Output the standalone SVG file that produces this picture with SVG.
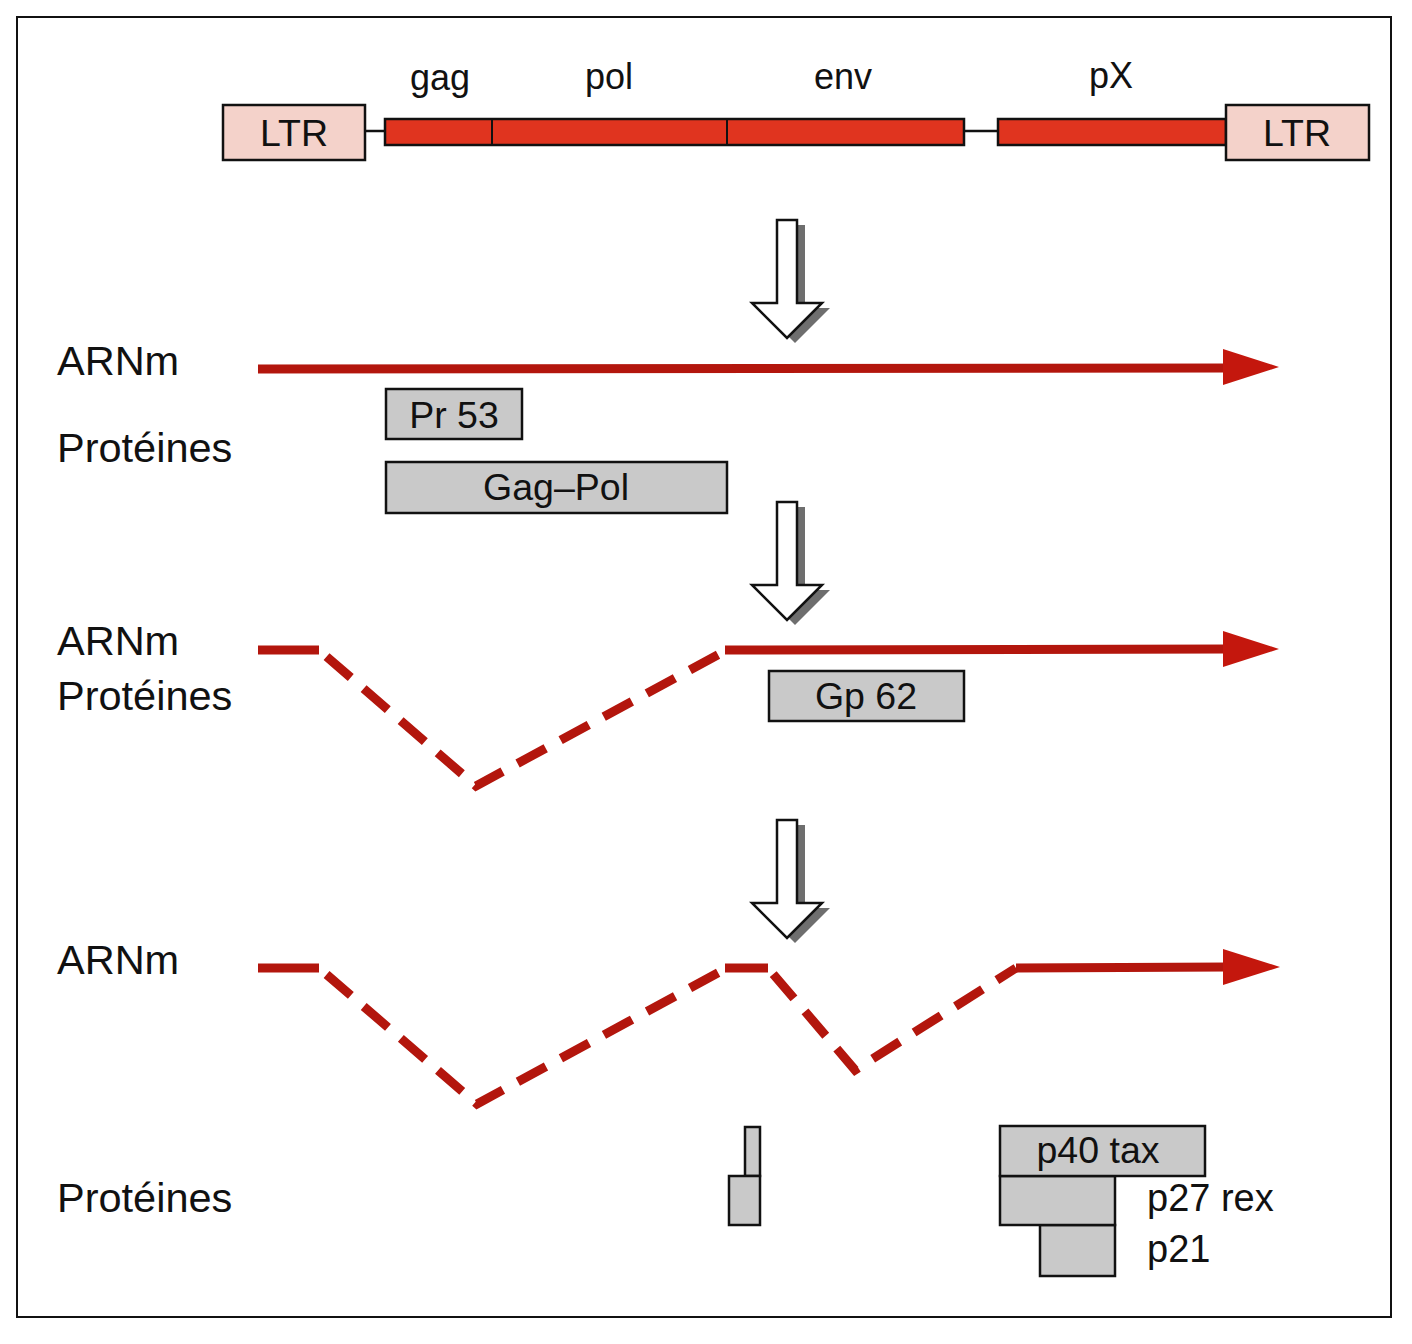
<svg xmlns="http://www.w3.org/2000/svg" width="1412" height="1344" viewBox="0 0 1412 1344">
<defs>
<style>
text{font-family:"Liberation Sans",Arial,sans-serif;fill:#111}
.lbl{font-size:41.5px}
.gene{font-size:36px}
.side{font-size:38px}
.box{font-size:37.5px;text-anchor:middle}
.ltr{fill:#f4d2ca;stroke:#111;stroke-width:2.5}
.bar{fill:#e0341f;stroke:#111;stroke-width:2.5}
.prot{fill:#c9c9c9;stroke:#111;stroke-width:2.5}
.rna{fill:none;stroke:#b3160d;stroke-width:9}
.dash{fill:none;stroke:#b3160d;stroke-width:9;stroke-dasharray:32 17}
.ah{fill:#c4170d}
.arr{fill:#fff;stroke:#111;stroke-width:2.5;stroke-linejoin:miter}
.sh{fill:#6e6e6e}
</style>
<path id="da" d="M777,220 L797,220 L797,303 L822,303 L787,338 L752,303 L777,303 Z"/>
</defs>
<rect x="17" y="17" width="1374" height="1300" fill="#fff" stroke="#111" stroke-width="2"/>

<g id="genome">
<line x1="365" y1="131" x2="385" y2="131" stroke="#111" stroke-width="2.5"/>
<line x1="964" y1="131" x2="998" y2="131" stroke="#111" stroke-width="2.5"/>
<rect class="bar" x="385" y="119" width="579" height="26"/>
<line x1="492" y1="119" x2="492" y2="145" stroke="#111" stroke-width="2"/>
<line x1="727" y1="119" x2="727" y2="145" stroke="#111" stroke-width="2"/>
<rect class="bar" x="998" y="119" width="228" height="26"/>
<g id="ltr-left"><rect class="ltr" x="223" y="105" width="142" height="55"/><text class="box" x="294" y="146">LTR</text></g>
<g id="ltr-right"><rect class="ltr" x="1226" y="105" width="143" height="55"/><text class="box" x="1297" y="146">LTR</text></g>
<text class="gene" x="440" y="90" text-anchor="middle">gag</text>
<text class="gene" x="609" y="89" text-anchor="middle">pol</text>
<text class="gene" x="843" y="89" text-anchor="middle">env</text>
<text class="gene" x="1111" y="88" text-anchor="middle">pX</text>
</g>

<g id="arrows">
<g id="arrow1"><use href="#da" class="sh" transform="translate(8,5)"/><use href="#da" class="arr"/></g>
<g id="arrow2" transform="translate(0,282)"><use href="#da" class="sh" transform="translate(8,5)"/><use href="#da" class="arr"/></g>
<g id="arrow3" transform="translate(0,600)"><use href="#da" class="sh" transform="translate(8,5)"/><use href="#da" class="arr"/></g>
</g>

<g id="labels">
<text class="lbl" x="57" y="375">ARNm</text>
<text class="lbl" x="57" y="462">Protéines</text>
<text class="lbl" x="57" y="655">ARNm</text>
<text class="lbl" x="57" y="710">Protéines</text>
<text class="lbl" x="57" y="974">ARNm</text>
<text class="lbl" x="57" y="1212">Protéines</text>
</g>

<g id="connectors">
<line class="rna" x1="258" y1="369" x2="1228" y2="368"/>
<polygon class="ah" points="1223,349 1279,367 1223,385"/>

<line class="rna" x1="258" y1="650" x2="319" y2="650"/>
<path class="dash" d="M319,650 L476,786 L725,651" stroke-dashoffset="-10"/>
<line class="rna" x1="725" y1="650" x2="1228" y2="649"/>
<polygon class="ah" points="1223,631 1279,649 1223,667"/>

<line class="rna" x1="258" y1="968" x2="319" y2="968"/>
<path class="dash" d="M319,968 L477,1104 L725,969" stroke-dashoffset="-10"/>
<line class="rna" x1="725" y1="968" x2="768" y2="968"/>
<path class="dash" d="M768,968 L855,1070 L1016,968" stroke-dashoffset="-8"/>
<line class="rna" x1="1016" y1="968" x2="1228" y2="967"/>
<polygon class="ah" points="1223,949 1280,967 1223,985"/>
</g>

<g id="proteins">
<g id="pr53"><rect class="prot" x="386" y="389" width="136" height="50"/><text class="box" x="454" y="428">Pr 53</text></g>
<g id="gagpol"><rect class="prot" x="386" y="462" width="341" height="51"/><text class="box" x="556" y="500">Gag–Pol</text></g>
<g id="gp62"><rect class="prot" x="769" y="671" width="195" height="50"/><text class="box" x="866" y="709">Gp 62</text></g>
<g id="small-prot"><rect class="prot" x="745" y="1127" width="15" height="49"/><rect class="prot" x="729" y="1176" width="31" height="49"/></g>
<g id="p21"><rect class="prot" x="1040" y="1225" width="75" height="51"/><text class="side" x="1147" y="1262">p21</text></g>
<g id="p27"><rect class="prot" x="1000" y="1176" width="115" height="49"/><text class="side" x="1147" y="1211">p27 rex</text></g>
<g id="p40"><rect class="prot" x="1000" y="1126" width="205" height="50"/><text class="box" x="1098" y="1163">p40 tax</text></g>
</g>
</svg>
